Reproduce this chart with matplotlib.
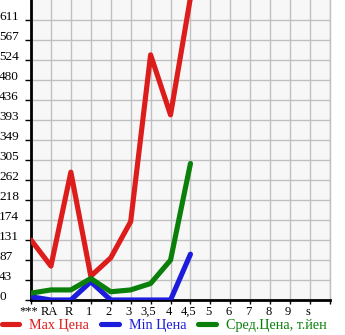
import numpy as np
import matplotlib
matplotlib.use("Agg")
import matplotlib.pyplot as plt
import matplotlib.transforms as mtransforms

# ---- Data ----
CATEGORIES = ["***", "RA", "R", "1", "2", "3", "3,5", "4", "4,5", "5", "6", "7", "8", "9", "s"]
MAX_PRICE  = [131, 74, 279, 52, 92, 171, 535, 404, 660]
MIN_PRICE  = [7, 0, 0, 40, 0, 0, 0, 0, 100]
AVG_PRICE  = [15, 22, 22, 47, 18, 22, 36, 87, 298]
Y_LABELS   = ["0", "43", "87", "131", "174", "218", "262", "305", "349",
              "393", "436", "480", "524", "567", "611"]
Y_STEP     = 611 / 14

# ---- Style ----
RED, BLUE, GREEN = "#dd1c1c", "#1c1cdd", "#0a800a"
FONT = "Liberation Serif"
LW = 3.7

fig = plt.figure(figsize=(3.45, 3.35), dpi=100)
ax = fig.add_axes([31 / 345, 35 / 335, 299 / 345, 300 / 335])
ax.set_facecolor("#f7f7f7")

x = np.arange(len(MAX_PRICE))
ax.plot(x, MAX_PRICE, color=RED, lw=LW, solid_capstyle="round", label="Max Цена", zorder=3)
ax.plot(x, MIN_PRICE, color=BLUE, lw=LW, solid_capstyle="round", label="Min Цена", zorder=3)
ax.plot(x, AVG_PRICE, color=GREEN, lw=LW, solid_capstyle="round", label="Сред.Цена, т.йен", zorder=4)

ax.set_xlim(0, len(CATEGORIES))
ax.set_ylim(0, 15 * Y_STEP)

ax.set_xticks(np.arange(len(CATEGORIES) + 1))
ax.set_xticklabels(CATEGORIES + [""], fontfamily=FONT, fontsize=9)
ax.set_yticks(np.arange(len(Y_LABELS)) * Y_STEP)
ax.set_yticklabels(Y_LABELS, fontfamily=FONT, fontsize=9.5, va="baseline", ha="left")
ax.tick_params(axis="x", length=3, width=1, pad=1, color="black")
ax.tick_params(axis="y", length=4, width=1, pad=19, color="black")

# labels sit a little left of their ticks in the reference
shift = mtransforms.ScaledTranslation(-2 / 100, 0, fig.dpi_scale_trans)
for lbl in ax.get_xticklabels():
    lbl.set_transform(lbl.get_transform() + shift)

ax.grid(True, color="#c0c0c0", lw=1)
ax.set_axisbelow(True)
for side in ("left", "bottom"):
    ax.spines[side].set_color("black")
    ax.spines[side].set_linewidth(2)
ax.spines["right"].set_color("#c0c0c0")
ax.spines["right"].set_linewidth(1)
ax.spines["top"].set_visible(False)

leg = fig.legend(loc="lower left", bbox_to_anchor=(-0.012, -0.008), ncol=3, frameon=False,
                 prop={"family": FONT, "size": 10.2}, handlelength=1.25, handletextpad=0.7,
                 columnspacing=0.85, borderaxespad=0)
for txt, line in zip(leg.get_texts(), leg.get_lines()):
    txt.set_color(line.get_color())

fig.savefig("out.png", dpi=100)
